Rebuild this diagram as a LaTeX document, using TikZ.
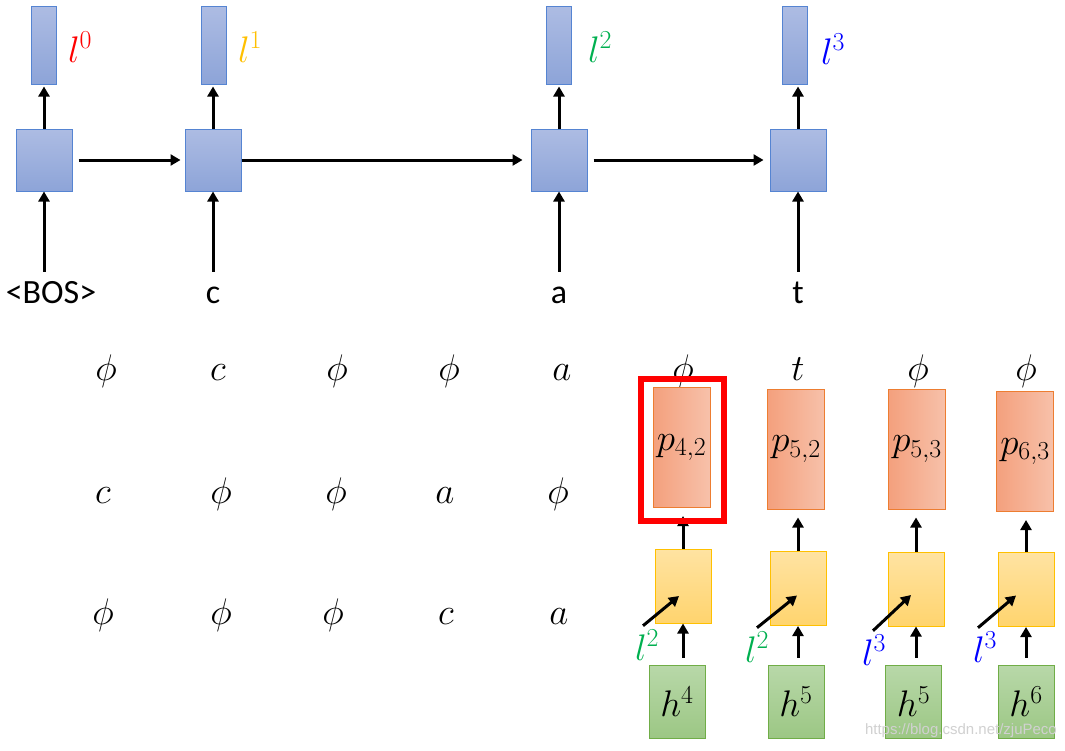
\RequirePackage{fix-cm}
\documentclass[tikz,border=0pt]{standalone}
\usepackage{fontspec}
\newfontfamily\calibri{Carlito}
\newfontfamily\wmfont{Liberation Sans}
\usetikzlibrary{arrows.meta}
\definecolor{bluetop}{HTML}{ADBCE3}
\definecolor{bluebot}{HTML}{8DA4D8}
\definecolor{blueedge}{HTML}{5584D2}
\definecolor{orangeleft}{HTML}{F4A07D}
\definecolor{orangeright}{HTML}{F7C1AA}
\definecolor{orangeedge}{HTML}{ED7D31}
\definecolor{yellowtop}{HTML}{FFE3A2}
\definecolor{yellowbot}{HTML}{FFD46E}
\definecolor{yellowedge}{HTML}{FFC000}
\definecolor{greentop}{HTML}{B8D8A9}
\definecolor{greenbot}{HTML}{9CC784}
\definecolor{greenedge}{HTML}{70AD47}
\definecolor{lgreen}{HTML}{00B050}
\definecolor{lorange}{HTML}{FFC000}
\begin{document}
\begin{tikzpicture}[x=1pt,y=1pt]
                \tikzstyle{every node}+=[inner sep=0pt]
                \tikzstyle{arr}=[line width=3pt,-{Triangle[length=10pt,width=11pt]}]
                \tikzstyle{rnn}=[draw=blueedge,line width=1pt,top color=bluetop,bottom color=bluebot,minimum width=56,minimum height=62]
                \tikzstyle{outbar}=[rnn,minimum width=25,minimum height=78]
                \tikzstyle{sym}=[font=\fontsize{37}{40}\selectfont]
                \tikzstyle{prob}=[sym,draw=orangeedge,line width=1pt,left color=orangeleft,right color=orangeright,minimum width=57,minimum height=120]
                \tikzstyle{attn}=[draw=yellowedge,line width=1pt,top color=yellowtop,bottom color=yellowbot,minimum width=56,minimum height=74]
                \tikzstyle{enc}=[sym,draw=greenedge,line width=1pt,top color=greentop,bottom color=greenbot,minimum width=56,minimum height=73]
                \tikzstyle{word}=[font=\calibri\fontsize{34}{40}\selectfont,anchor=base,text height=24pt]
                \tikzstyle{grid}=[sym,anchor=base]
                \path [use as bounding box,fill=white] (0,0) rectangle (1065,-750);
                \node [rnn] (c0) at (44,-160) {};
                \node [rnn] (c1) at (213,-160) {};
                \node [rnn] (c2) at (559,-160) {};
                \node [rnn] (c3) at (798,-160) {};
                \node [outbar] (o0) at (44,-45) {};
                \node [outbar] (o1) at (214,-45) {};
                \node [outbar] (o2) at (559,-45) {};
                \node [outbar] (o3) at (795,-45) {};
                \node [sym,text=red] (l0) at (80,-47) {$l^0$};
                \node [sym,text=lorange] (l1) at (250,-47) {$l^1$};
                \node [sym,text=lgreen] (l2) at (600,-47) {$l^2$};
                \node [sym,text=blue] (l3) at (833,-49) {$l^3$};
                \node [word] (w0) at (51,-303) {<BOS>};
                \node [word] (w1) at (213,-303) {c};
                \node [word] (w2) at (559,-303) {a};
                \node [word] (w3) at (798,-303) {t};
                \draw [arr,shorten >=2pt] (c0.north) -- (c0.north |- o0.south);
                \draw [arr,shorten >=2pt] (c1.north) -- (c1.north |- o1.south);
                \draw [arr,shorten >=2pt] (c2.north) -- (c2.north |- o2.south);
                \draw [arr,shorten >=2pt] (c3.north) -- (c3.north |- o3.south);
                \draw [arr,shorten <=7pt] (c0.south |- w0.north) -- (c0.south);
                \draw [arr,shorten <=7pt] (c1.south |- w1.north) -- (c1.south);
                \draw [arr,shorten <=7pt] (c2.south |- w2.north) -- (c2.south);
                \draw [arr,shorten <=7pt] (c3.south |- w3.north) -- (c3.south);
                \draw [arr,shorten <=6pt,shorten >=4pt] (c0) -- (c1);
                \draw [arr,shorten >=8pt] (c1) -- (c2);
                \draw [arr,shorten <=6pt,shorten >=6pt] (c2) -- (c3);
                \node [grid] (g11) at (106,-380) {$\phi$};
                \node [grid] (g12) at (218,-380) {$c$};
                \node [grid] (g13) at (337,-380) {$\phi$};
                \node [grid] (g14) at (449,-380) {$\phi$};
                \node [grid] (g15) at (562,-380) {$a$};
                \node [grid] (g16) at (683,-380) {$\phi$};
                \node [grid] (g17) at (798,-380) {$t$};
                \node [grid] (g18) at (918,-380) {$\phi$};
                \node [grid] (g19) at (1026,-380) {$\phi$};
                \node [grid] (g21) at (103,-503) {$c$};
                \node [grid] (g22) at (221,-503) {$\phi$};
                \node [grid] (g23) at (336,-503) {$\phi$};
                \node [grid] (g24) at (445,-503) {$a$};
                \node [grid] (g25) at (558,-503) {$\phi$};
                \node [grid] (g31) at (103,-624) {$\phi$};
                \node [grid] (g32) at (221,-624) {$\phi$};
                \node [grid] (g33) at (333,-624) {$\phi$};
                \node [grid] (g34) at (446,-624) {$c$};
                \node [grid] (g35) at (559,-624) {$a$};
                \node [prob] (p42) at (681.5,-447.5) {$p_{4,2}$};
                \node [prob] (p52) at (796,-449) {$p_{5,2}$};
                \node [prob] (p53) at (917,-449) {$p_{5,3}$};
                \node [prob] (p63) at (1025,-451.5) {$p_{6,3}$};
                \node [attn] (a1) at (683,-586) {};
                \node [attn] (a2) at (798,-588.5) {};
                \node [attn] (a3) at (916,-589) {};
                \node [attn] (a4) at (1026,-589.5) {};
                \node [enc] (h4) at (677,-701.5) {$h^4$};
                \node [enc] (h5) at (796,-701.5) {$h^5$};
                \node [enc] (h5b) at (913.5,-701.5) {$h^5$};
                \node [enc] (h6) at (1026,-701.5) {$h^6$};
                \node [sym,text=lgreen] (k1) at (647,-645) {$l^2$};
                \node [sym,text=lgreen] (k2) at (757,-647) {$l^2$};
                \node [sym,text=blue] (k3) at (874,-650) {$l^3$};
                \node [sym,text=blue] (k4) at (985,-647) {$l^3$};
                \draw [arr,shorten >=8pt] (a1.north) -- (a1.north |- p42.south);
                \draw [arr,shorten >=8pt] (a2.north) -- (a2.north |- p52.south);
                \draw [arr,shorten >=8pt] (a3.north) -- (a3.north |- p53.south);
                \draw [arr,shorten >=8pt] (a4.north) -- (a4.north |- p63.south);
                \draw [arr,shorten <=7pt] (a1.south |- h4.north) -- (a1.south);
                \draw [arr,shorten <=7pt] (a2.south |- h5.north) -- (a2.south);
                \draw [arr,shorten <=7pt] (a3.south |- h5b.north) -- (a3.south);
                \draw [arr,shorten <=7pt] (a4.south |- h6.north) -- (a4.south);
                \draw [arr] ([shift={(-4,4)}]k1.north) -- ([shift={(-4,-10)}]a1.center);
                \draw [arr] ([shift={(0,4)}]k2.north) -- ([shift={(-1,-7)}]a2.center);
                \draw [arr] ([shift={(-1,4)}]k3.north) -- ([shift={(-5,-6)}]a3.center);
                \draw [arr] ([shift={(-7,4)}]k4.north) -- ([shift={(-10,-6)}]a4.center);
                \node [draw=red,line width=6pt,minimum width=83,minimum height=142] (sel) at (682.5,-450) {};
                \node [font=\wmfont\fontsize{15}{18}\selectfont,text=black!18,anchor=east] (wm) at (1057,-731) {https://blog.csdn.net/zjuPeco};
\end{tikzpicture}
\end{document}
